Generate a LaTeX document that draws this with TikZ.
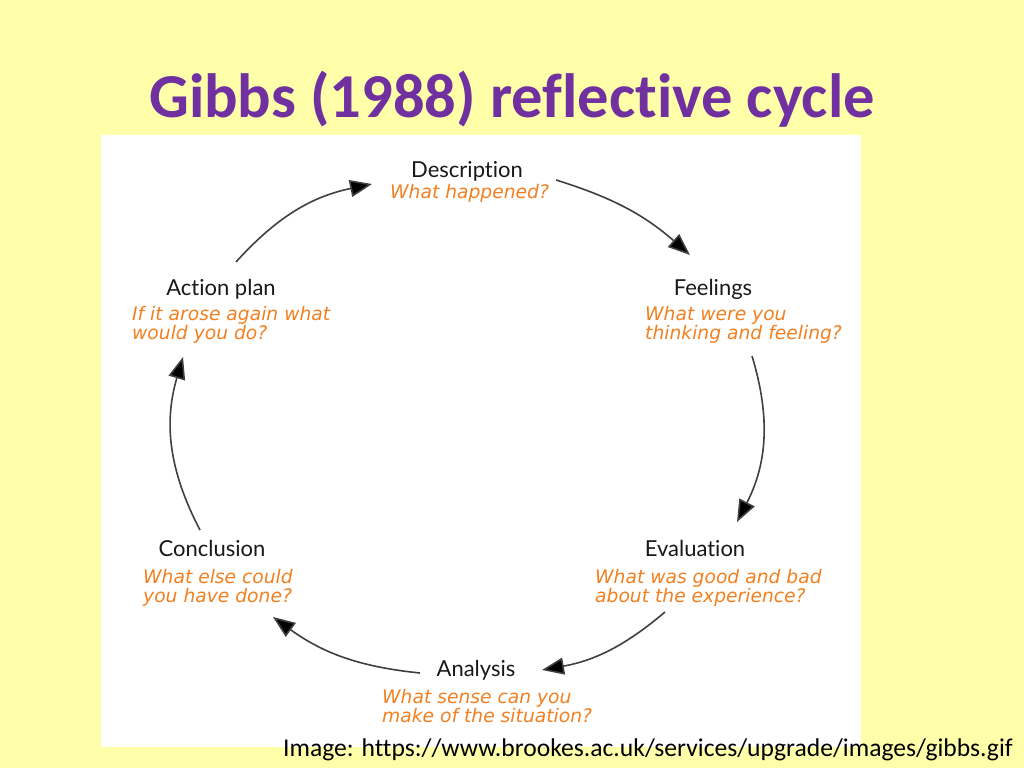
\documentclass[tikz,border=0pt]{standalone}
\usepackage{fontspec}
\setmainfont{Carlito}[Ligatures=NoCommon]
\newfontfamily\labelfont{Lato}[Ligatures=NoCommon]
\newfontfamily\qfont{DejaVu Sans}
\usetikzlibrary{arrows.meta}
\definecolor{bgyellow}{RGB}{255,255,170}
\definecolor{titlepurple}{RGB}{112,48,160}
\definecolor{qorange}{RGB}{242,128,32}
\begin{document}
\begin{tikzpicture}[x=1pt,y=1pt,
  lbl/.style={anchor=base, inner sep=0, font=\labelfont\fontsize{22}{26}\selectfont, text=black!90},
  qst/.style={anchor=north west, inner sep=0, align=left, font=\qfont\itshape\fontsize{18.7}{19}\selectfont, text=qorange},
  cyc/.style={draw=black!75, line width=1.6pt, -{Triangle[length=22pt,width=17pt,fill=black]}},
]
\useasboundingbox (0,0) rectangle (1024,-768);
\fill[bgyellow] (0,0) rectangle (1024,-768);
\fill[white] (101,-135) rectangle (861,-747);

\node[anchor=base, inner sep=0, font=\bfseries\fontsize{62.5}{70}\selectfont, text=titlepurple] (title) at (512,-117) {Gibbs (1988) reflective cycle};

\node[lbl] (desc) at (467,-177) {Description};
\node[qst] (descq) at (390,-184) {What happened?};
\node[lbl] (feel) at (713,-295) {Feelings};
\node[qst] (feelq) at (645,-306) {What were you\\thinking and feeling?};
\node[lbl] (act) at (221,-295) {Action plan};
\node[qst] (actq) at (132,-306) {If it arose again what\\would you do?};
\node[lbl] (conc) at (212,-556) {Conclusion};
\node[qst] (concq) at (143,-569) {What else could\\you have done?};
\node[lbl] (eval) at (695,-556) {Evaluation};
\node[qst] (evalq) at (595,-569) {What was good and bad\\about the experience?};
\node[lbl] (anal) at (476,-676) {Analysis};
\node[qst] (analq) at (382,-689) {What sense can you\\make of the situation?};

\coordinate (a1s) at (236,-262); \coordinate (a1e) at (372,-184);
\coordinate (a2s) at (556,-180); \coordinate (a2e) at (690,-255);
\coordinate (a3s) at (752,-356); \coordinate (a3e) at (737,-522);
\coordinate (a4s) at (665,-612); \coordinate (a4e) at (542,-670);
\coordinate (a5s) at (420,-673); \coordinate (a5e) at (273,-617);
\coordinate (a6s) at (200,-530); \coordinate (a6e) at (183,-357);

\draw[cyc] (a1s) to[bend left=18] (a1e);
\draw[cyc] (a2s) to[bend left=12] (a2e);
\draw[cyc] (a3s) to[bend left=22] (a3e);
\draw[cyc] (a4s) to[bend left=15] (a4e);
\draw[cyc] (a5s) to[bend left=15] (a5e);
\draw[cyc] (a6s) to[bend left=22] (a6e);

\node[anchor=base west, inner sep=0, font=\fontsize{25.6}{30}\selectfont] (cap) at (283,-756) {Image: https://www.brookes.ac.uk/services/upgrade/images/gibbs.gif};
\end{tikzpicture}
\end{document}
